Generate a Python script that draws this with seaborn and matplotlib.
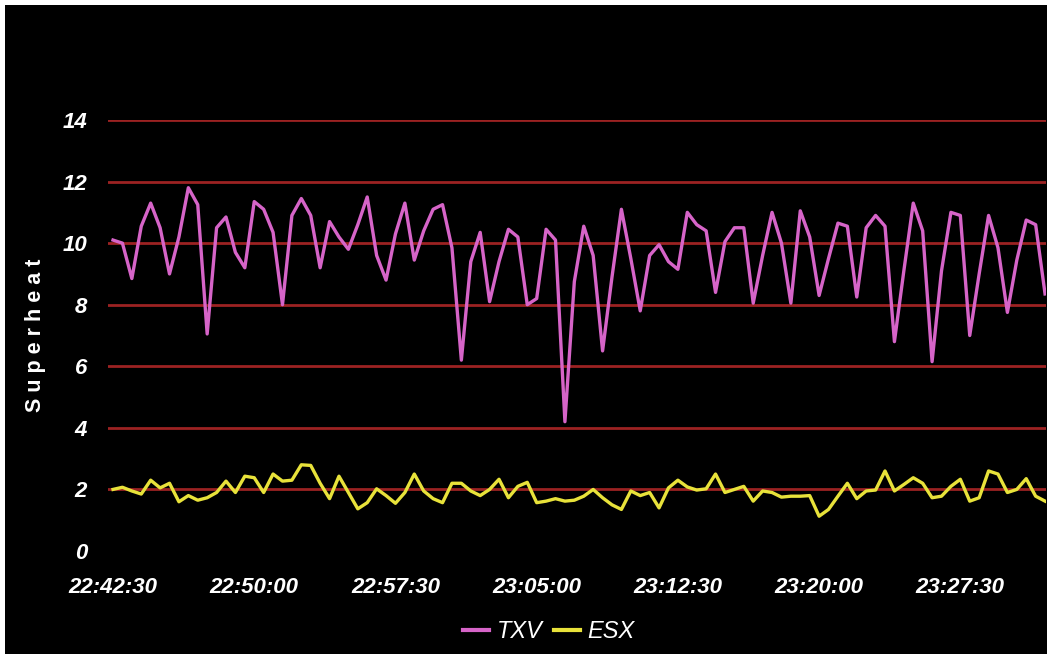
import pandas as pd
import matplotlib
matplotlib.use("Agg")
import matplotlib.pyplot as plt
from matplotlib.patches import Rectangle
import seaborn as sns

# one reading every 30 s, starting 22:42:30
start = "2000-01-01 22:42:30"
step = "30s"

txv = [10.1, 10.0, 8.85, 10.55, 11.3, 10.5, 9.0, 10.2, 11.8, 11.25,
       7.05, 10.5, 10.85, 9.7, 9.2, 11.35, 11.1, 10.35, 8.0, 10.9,
       11.45, 10.9, 9.2, 10.7, 10.2, 9.8, 10.6, 11.5, 9.6, 8.8,
       10.3, 11.3, 9.45, 10.4, 11.1, 11.25, 9.85, 6.2, 9.4, 10.35,
       8.1, 9.4, 10.45, 10.2, 8.0, 8.2, 10.45, 10.1, 4.2, 8.75,
       10.55, 9.6, 6.5, 8.9, 11.1, 9.5, 7.8, 9.6, 9.95, 9.4,
       9.15, 11.0, 10.6, 10.4, 8.4, 10.05, 10.5, 10.5, 8.05, 9.6,
       11.0, 10.0, 8.05, 11.05, 10.2, 8.3, 9.5, 10.65, 10.55, 8.25,
       10.5, 10.9, 10.55, 6.8, 9.1, 11.3, 10.4, 6.15, 9.1, 11.0,
       10.9, 7.0, 9.0, 10.9, 9.85, 7.75, 9.45, 10.75, 10.6, 8.35]

esx = [2.0, 2.07, 1.95, 1.85, 2.3, 2.05, 2.2, 1.6, 1.8, 1.65,
       1.73, 1.9, 2.27, 1.9, 2.43, 2.38, 1.9, 2.5, 2.27, 2.3,
       2.8, 2.78, 2.2, 1.7, 2.43, 1.9, 1.37, 1.57, 2.02, 1.8,
       1.55, 1.9, 2.5, 1.95, 1.7, 1.57, 2.2, 2.2, 1.95, 1.8,
       2.0, 2.33, 1.73, 2.1, 2.23, 1.57, 1.62, 1.7, 1.62, 1.65,
       1.78, 2.0, 1.73, 1.5, 1.35, 1.95, 1.8, 1.9, 1.4, 2.05,
       2.3, 2.08, 1.98, 2.02, 2.5, 1.9, 2.0, 2.1, 1.62, 1.95,
       1.9, 1.75, 1.78, 1.78, 1.8, 1.13, 1.35, 1.78, 2.2, 1.7,
       1.95, 1.98, 2.6, 1.95, 2.16, 2.38, 2.2, 1.73, 1.78, 2.1,
       2.33, 1.62, 1.73, 2.6, 2.5, 1.9, 2.0, 2.35, 1.78, 1.62]

tick_labels = ["22:42:30", "22:50:00", "22:57:30", "23:05:00",
               "23:12:30", "23:20:00", "23:27:30"]
y_ticks = [0, 2, 4, 6, 8, 10, 12, 14]

times = pd.date_range(start, periods=len(txv), freq=step)
df = pd.DataFrame({"time": times, "TXV": txv, "ESX": esx})
df = df.melt(id_vars="time", var_name="series", value_name="Superheat")

W, H = 1047, 658
font = "Liberation Sans"
plt.rcParams["font.family"] = [font, "DejaVu Sans"]

fig = plt.figure(figsize=(W / 100, H / 100), dpi=100, facecolor="white")
# black panel with a thin white margin
fig.add_artist(Rectangle((5 / W, 4 / H), 1, (653 - 4) / H, transform=fig.transFigure,
                         facecolor="black", edgecolor="none", zorder=-10))

ax = fig.add_axes([108 / W, 1 - 551 / H, (1046 - 108) / W, (551 - 120) / H])
ax.patch.set_alpha(0)

sns.lineplot(data=df, x="time", y="Superheat", hue="series",
             palette={"TXV": "#d664c8", "ESX": "#e8e23a"},
             linewidth=2.4, ax=ax)

ax.set_ylim(0, 14)
ax.set_yticks(y_ticks)
ax.set_xlim(times[0] - pd.Timedelta(seconds=16), times[-1] + pd.Timedelta(seconds=3))
tick_times = pd.to_datetime(["2000-01-01 " + t for t in tick_labels])
ax.set_xticks(tick_times)
ax.set_xticklabels(tick_labels)

ax.yaxis.grid(True, color="#9c2222", linewidth=2.0)
ax.get_ygridlines()[0].set_visible(False)
ax.set_axisbelow(True)
for s in ax.spines.values():
    s.set_visible(False)

ax.tick_params(axis="both", length=0, colors="white")
ax.tick_params(axis="y", pad=15)
ax.tick_params(axis="x", pad=19)
for lab in ax.get_xticklabels() + ax.get_yticklabels():
    lab.set_fontsize(16)
    lab.set_fontweight("bold")
    lab.set_fontstyle("italic")
    lab.set_color("white")

ax.set_xlabel("")
ax.set_ylabel("S u p e r h e a t", fontsize=15.5, fontweight="bold", color="white", va="center")
ax.yaxis.set_label_coords((36 - 108) / (1046 - 108), 0.5)

handles, labels = ax.get_legend_handles_labels()
ax.get_legend().remove()
leg = fig.legend(handles, labels, loc="center", bbox_to_anchor=(549 / W, 1 - 632 / H),
                 ncol=2, frameon=False, handlelength=1.1, handletextpad=0.3,
                 columnspacing=0.5, prop={"family": font, "style": "italic", "size": 17})
for t in leg.get_texts():
    t.set_color("white")
for h in leg.get_lines():
    h.set_linewidth(3)

fig.savefig("out.png", dpi=100, facecolor=fig.get_facecolor())
